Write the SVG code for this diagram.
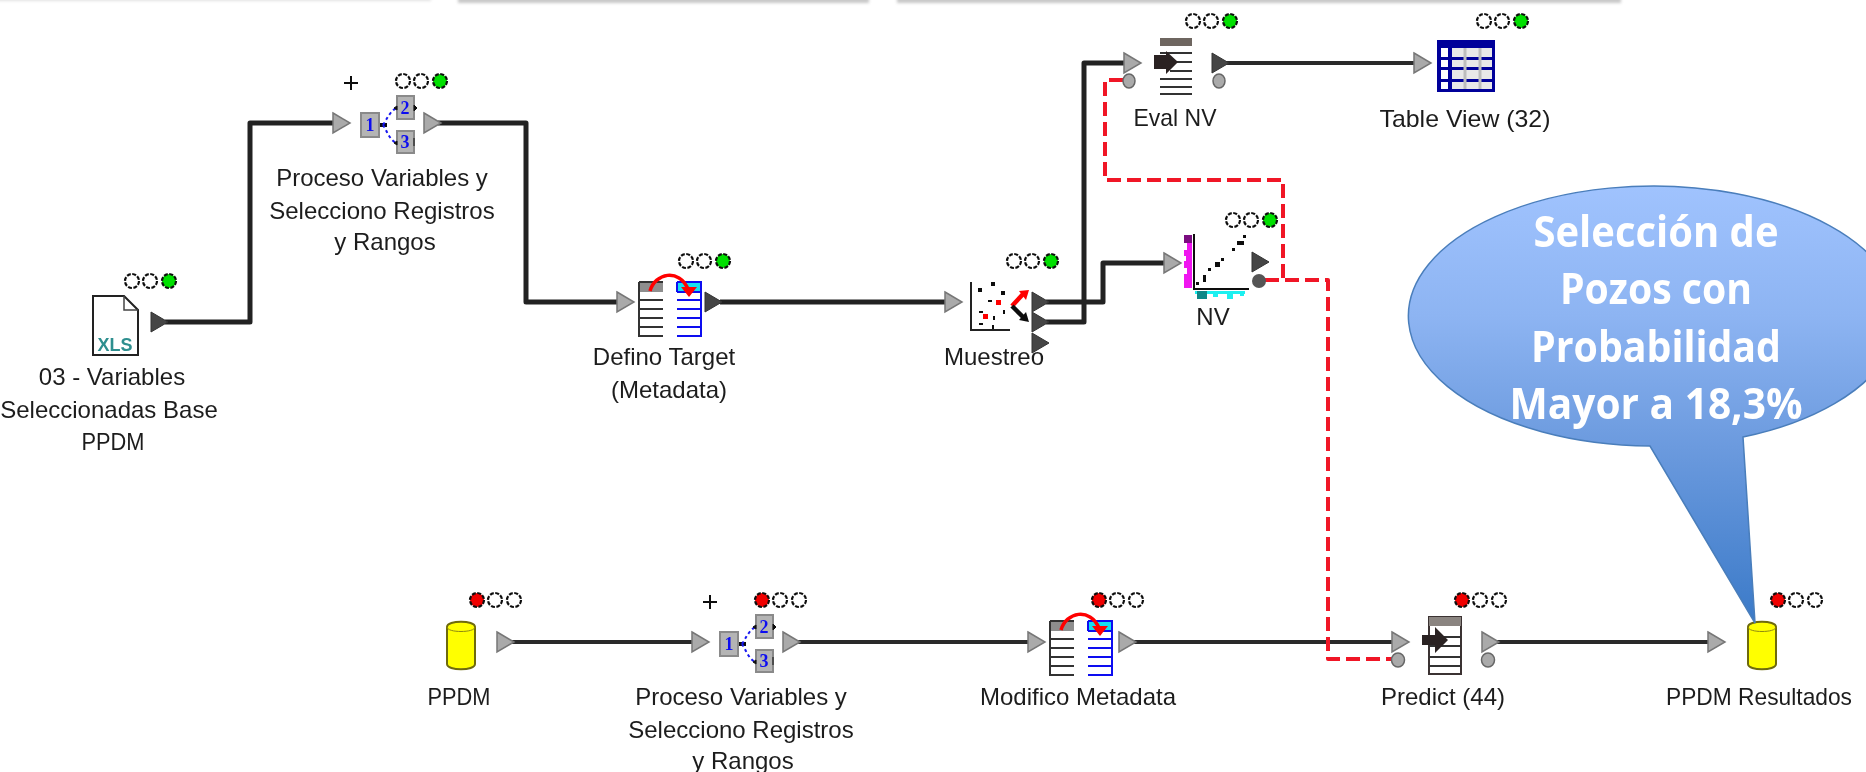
<svg xmlns="http://www.w3.org/2000/svg" xmlns:xlink="http://www.w3.org/1999/xlink" width="1866" height="772" viewBox="0 0 1866 772">
<style>
text{font-family:"Liberation Sans",Arial,sans-serif}
.lb{font-size:24px;fill:#1c1c1c;text-anchor:middle}
.dig{font-family:"Liberation Serif",serif;font-size:18px;font-weight:bold;fill:#1010f0;text-anchor:middle}
.con{fill:none;stroke:#222;stroke-width:5;stroke-linejoin:round}
.conb{fill:none;stroke:#2a2a2a;stroke-width:4}
.red{fill:none;stroke:#f01528;stroke-width:4;stroke-dasharray:14 6;stroke-linejoin:round}
.tg{fill:#aaa;stroke:#777;stroke-width:1.5}
.td{fill:#454545;stroke:#333;stroke-width:1}
.ov{fill:#aaa;stroke:#666;stroke-width:1.5}
.off{fill:#fff;stroke:#111;stroke-width:2.2;stroke-dasharray:4 1.5}
.gr{fill:#00e000;stroke:#111;stroke-width:2.2;stroke-dasharray:4 1.5}
.rd{fill:#f00000;stroke:#111;stroke-width:2.2;stroke-dasharray:4 1.5}
.row{stroke:#333;stroke-width:2;fill:none}
.blu{stroke:#1010f0;stroke-width:2;fill:none}
.box{fill:#b4b4b4;stroke:#8a8a8a;stroke-width:2}
.cal{font-family:"Open Sans","Liberation Sans",sans-serif;font-size:43px;font-weight:bold;fill:#fff;text-anchor:middle}
.shade{fill:#c8c8c8}
</style>
<defs>
<filter id="soft" filterUnits="userSpaceOnUse" x="0" y="0" width="1866" height="772"><feGaussianBlur stdDeviation="0.6"/></filter>
<filter id="sh" filterUnits="userSpaceOnUse" x="0" y="-10" width="1866" height="30"><feGaussianBlur stdDeviation="1.5"/></filter>
<linearGradient id="cg" gradientUnits="userSpaceOnUse" x1="0" y1="185" x2="0" y2="623"><stop offset="0" stop-color="#a0c3fe"/><stop offset="0.3" stop-color="#8db4f2"/><stop offset="0.6" stop-color="#6b9ade"/><stop offset="1" stop-color="#3b7ac8"/></linearGradient>
<g id="tri"><path d="M0 -10L17 0L0 10Z"/></g>
<g id="dots3g"><circle cx="0" cy="0" r="7" class="off"/><circle cx="18" cy="0" r="7" class="off"/><circle cx="37" cy="0" r="7" class="gr"/></g>
<g id="dots3r"><circle cx="0" cy="0" r="7" class="rd"/><circle cx="18" cy="0" r="7" class="off"/><circle cx="37" cy="0" r="7" class="off"/></g>
<g id="split">
<path d="M18 12L26 12" stroke="#111" stroke-width="4"/>
<path d="M22 12C26 6 28 0 35 -5M22 12C26 18 28 26 35 30" fill="none" stroke="#1414f0" stroke-width="2" stroke-dasharray="3 3"/>
<rect x="0" y="0" width="18" height="24" class="box"/>
<rect x="36" y="-17" width="17" height="23" class="box"/>
<rect x="36" y="18" width="17" height="22" class="box"/>
<path d="M33 -5l3 -2v4zM33 30l3 -2v4zM53 -8l3 3l-3 3zM53 25v8" fill="#111" stroke="#111"/>
</g>
<g id="meta">
<rect x="0" y="0" width="24" height="10" fill="#8e8e8e"/>
<path d="M0 0H24M0 0V55M0 18H24M0 27H24M0 36H24M0 45H24M0 54H24" class="row"/>
<rect x="38" y="0" width="24" height="10" fill="#19e0f0"/>
<path d="M38 0H62V55M38 0V10M38 10H62M38 18H62M38 27H62M38 36H62M38 45H62M38 54H62" class="blu"/>
<path d="M11 9C16 -9 40 -14 49 7" fill="none" stroke="#f00" stroke-width="3.5"/>
<path d="M42 5H58L50 15Z" fill="#f00"/>
</g>
<g id="cyl">
<path d="M1 6V43C1 50 29 50 29 43V6C29 -1 1 -1 1 6Z" fill="#ffff00" stroke="#6e6a10" stroke-width="2"/>
<path d="M1 6C1 12 29 12 29 6" fill="none" stroke="#8f8a10" stroke-width="1"/>
</g>
</defs>
<g id="top-edges" filter="url(#sh)">
<rect x="-5" y="-6" width="436" height="7" fill="#e2e2e2"/>
<rect x="458" y="-6" width="411" height="9" class="shade"/>
<rect x="897" y="-6" width="724" height="9" class="shade"/>
</g>
<g id="workflow" filter="url(#soft)">
<g id="connectors">
<path class="con" d="M165 322H250V123H336"/>
<path class="con" d="M438 123H526V302H620"/>
<path class="con" d="M720 302H948"/>
<path class="con" d="M1046 302H1103V263H1167"/>
<path class="con" d="M1046 322H1084V63H1127"/>
<path class="conb" d="M1226 63H1417"/>
<path class="conb" d="M511 642H695"/>
<path class="conb" d="M797 642H1031"/>
<path class="conb" d="M1134 642H1395"/>
<path class="conb" d="M1497 642H1711"/>
<path class="red" d="M1123 80H1105V180H1283V280"/>
<path class="red" d="M1265 280H1328V659H1392"/>
</g>
<g id="node-xls">
<path d="M93 296H124L138 310V355H93Z" fill="#fff" stroke="#222" stroke-width="2"/>
<path d="M124 296V310H138" fill="none" stroke="#444" stroke-width="1.5"/>
<text x="115" y="351" font-family="Liberation Serif,serif" font-size="18" font-weight="bold" fill="#2f8f8f" text-anchor="middle">XLS</text>
<use href="#dots3g" x="132" y="281"/>
<use href="#tri" x="151" y="322" class="td"/>
<text class="lb" x="112" y="385">03 - Variables</text>
<text class="lb" x="109" y="418">Seleccionadas Base</text>
<text class="lb" x="113" y="450" textLength="63" lengthAdjust="spacingAndGlyphs">PPDM</text>
</g>
<g id="node-proceso-1">
<use href="#tri" x="333" y="123" class="tg"/>
<use href="#split" x="361" y="113"/>
<text class="dig" x="370" y="131">1</text><text class="dig" x="405" y="114">2</text><text class="dig" x="405" y="148">3</text>
<use href="#tri" x="424" y="123" class="tg"/>
<path d="M344 83H358M351 76V90" stroke="#111" stroke-width="2"/>
<use href="#dots3g" x="403" y="81"/>
<text class="lb" x="382" y="186">Proceso Variables y</text>
<text class="lb" x="382" y="219">Selecciono Registros</text>
<text class="lb" x="385" y="250">y Rangos</text>
</g>
<g id="node-defino">
<use href="#tri" x="617" y="302" class="tg"/>
<use href="#meta" x="639" y="282"/>
<use href="#tri" x="705" y="302" class="td"/>
<use href="#dots3g" x="686" y="261"/>
<text class="lb" x="664" y="365">Defino Target</text>
<text class="lb" x="669" y="398">(Metadata)</text>
</g>
<g id="node-muestreo">
<use href="#tri" x="945" y="302" class="tg"/>
<path d="M971 282V330H1010" fill="none" stroke="#222" stroke-width="2"/>
<path d="M978 288h4v4h-4zM991 282h4v4h-4zM1001 291h4v4h-4zM988 300h4v2h-4zM979 311h4v2h-4zM993 316h2v4h-2zM979 323h4v2h-4zM992 325h2v4h-2zM1003 310h2v4h-2z" fill="#111"/>
<path d="M996 300h5v5h-5zM983 314h5v5h-5z" fill="#f00"/>
<path d="M1012 306L1024 293" stroke="#f00" stroke-width="4.5"/><path d="M1019 291L1029 290L1026 300Z" fill="#f00"/>
<path d="M1012 306L1024 318" stroke="#111" stroke-width="4.5"/><path d="M1029 322L1019 320L1026 312Z" fill="#111"/>
<use href="#tri" x="1032" y="302" class="td"/>
<use href="#tri" x="1032" y="322" class="td"/>
<use href="#tri" x="1032" y="343" class="td"/>
<use href="#dots3g" x="1014" y="261"/>
<text class="lb" x="994" y="365">Muestreo</text>
</g>
<g id="node-eval">
<use href="#tri" x="1124" y="63" class="tg"/>
<ellipse cx="1129" cy="81" rx="6" ry="7" class="ov"/>
<rect x="1160" y="38" width="32" height="8" fill="#6e6660"/>
<path d="M1160 53H1192M1170 62H1192M1170 71H1192M1160 79H1192M1160 87H1192M1160 94H1192" class="row"/>
<path d="M1154 55H1166V51L1178 62L1166 74V69H1154Z" fill="#2a2222"/>
<use href="#tri" x="1212" y="63" class="td"/>
<ellipse cx="1219" cy="81" rx="6" ry="7" class="ov"/>
<use href="#dots3g" x="1193" y="21"/>
<text class="lb" x="1175" y="126" textLength="83" lengthAdjust="spacingAndGlyphs">Eval NV</text>
</g>
<g id="node-table">
<use href="#tri" x="1414" y="63" class="tg"/>
<rect x="1437" y="40" width="58" height="52" fill="#00009a"/>
<rect x="1452" y="48" width="40" height="9" fill="#e8e8e8"/><rect x="1452" y="60" width="40" height="7" fill="#e8e8e8"/><rect x="1452" y="70" width="40" height="9" fill="#e8e8e8"/><rect x="1452" y="82" width="40" height="7" fill="#e8e8e8"/>
<rect x="1441" y="48" width="7" height="9" fill="#fff"/><rect x="1441" y="60" width="7" height="7" fill="#fff"/><rect x="1441" y="70" width="7" height="9" fill="#fff"/><rect x="1441" y="82" width="7" height="7" fill="#fff"/>
<path d="M1465 48V89M1480 48V89" stroke="#bdbdbd" stroke-width="3"/>
<use href="#dots3g" x="1484" y="21"/>
<text class="lb" x="1465" y="127" textLength="171" lengthAdjust="spacingAndGlyphs">Table View (32)</text>
</g>
<g id="node-nv">
<use href="#tri" x="1164" y="263" class="tg"/>
<path d="M1184 235h8v8h-8z" fill="#7a0a80"/>
<path d="M1187 243h5v7h-5zM1184 250h8v6h-8zM1186 256h6v5h-6zM1184 261h8v7h-8zM1187 268h5v6h-5zM1184 274h8v14h-8z" fill="#f014f0"/>
<path d="M1194 234V289H1249" fill="none" stroke="#111" stroke-width="2"/>
<path d="M1195 291h50v3h-50zM1199 294h6v5h-6zM1227 294h6v5h-6zM1213 293h5v4h-5zM1240 293h4v3h-4z" fill="#1cf0f0"/>
<path d="M1197 291h10v8h-10z" fill="#118888"/>
<path d="M1196 282h3v3h-3zM1203 275h3v7h-3zM1208 268h3v3h-3zM1215 262h5v5h-5zM1232 248h3v3h-3zM1237 241h7v4h-7zM1243 235h3v3h-3zM1221 258h3v3h-3z" fill="#111"/>
<use href="#tri" x="1252" y="262" class="td"/>
<ellipse cx="1259" cy="281" rx="7" ry="7" fill="#555"/>
<use href="#dots3g" x="1233" y="220"/>
<text class="lb" x="1213" y="325">NV</text>
</g>
<g id="node-ppdm">
<use href="#cyl" x="446" y="621"/>
<use href="#tri" x="497" y="642" class="tg"/>
<use href="#dots3r" x="477" y="600"/>
<text class="lb" x="459" y="705" textLength="63" lengthAdjust="spacingAndGlyphs">PPDM</text>
</g>
<g id="node-proceso-2">
<use href="#tri" x="692" y="642" class="tg"/>
<use href="#split" x="720" y="632"/>
<text class="dig" x="729" y="650">1</text><text class="dig" x="764" y="633">2</text><text class="dig" x="764" y="667">3</text>
<use href="#tri" x="783" y="642" class="tg"/>
<path d="M703 602H717M710 595V609" stroke="#111" stroke-width="2"/>
<use href="#dots3r" x="762" y="600"/>
<text class="lb" x="741" y="705">Proceso Variables y</text>
<text class="lb" x="741" y="738">Selecciono Registros</text>
<text class="lb" x="743" y="769">y Rangos</text>
</g>
<g id="node-modifico">
<use href="#tri" x="1028" y="642" class="tg"/>
<use href="#meta" x="1050" y="621"/>
<use href="#tri" x="1119" y="642" class="tg"/>
<use href="#dots3r" x="1099" y="600"/>
<text class="lb" x="1078" y="705">Modifico Metadata</text>
</g>
<g id="node-predict">
<use href="#tri" x="1392" y="642" class="tg"/>
<ellipse cx="1398" cy="660" rx="6.5" ry="7" class="ov"/>
<rect x="1429" y="617" width="32" height="57" fill="#fff" stroke="#3a3030" stroke-width="2"/>
<rect x="1429" y="617" width="32" height="9" fill="#8a8480"/>
<path d="M1429 637H1461M1429 646H1461M1429 657H1461M1429 666H1461" class="row"/>
<path d="M1422 635H1435V627L1448 640L1435 653V645H1422Z" fill="#2a2222"/>
<use href="#tri" x="1482" y="642" class="tg"/>
<ellipse cx="1488" cy="660" rx="6.5" ry="7" class="ov"/>
<use href="#dots3r" x="1462" y="600"/>
<text class="lb" x="1443" y="705">Predict (44)</text>
</g>
<g id="node-resultados">
<use href="#tri" x="1708" y="642" class="tg"/>
<use href="#cyl" x="1747" y="621"/>
<use href="#dots3r" x="1778" y="600"/>
<text class="lb" x="1759" y="705" textLength="186" lengthAdjust="spacingAndGlyphs">PPDM Resultados</text>
</g>
</g>
<g id="callout">
<path d="M1743 437A245 130 0 1 0 1650 446L1755 623Z" fill="url(#cg)" stroke="#4a7ebb" stroke-width="1.5"/>
<text class="cal" x="1656" y="247" textLength="245" lengthAdjust="spacingAndGlyphs">Selección de</text>
<text class="cal" x="1656" y="304" textLength="192" lengthAdjust="spacingAndGlyphs">Pozos con</text>
<text class="cal" x="1656" y="362" textLength="250" lengthAdjust="spacingAndGlyphs">Probabilidad</text>
<text class="cal" x="1656" y="419" textLength="293" lengthAdjust="spacingAndGlyphs">Mayor a 18,3%</text>
</g>
</svg>
